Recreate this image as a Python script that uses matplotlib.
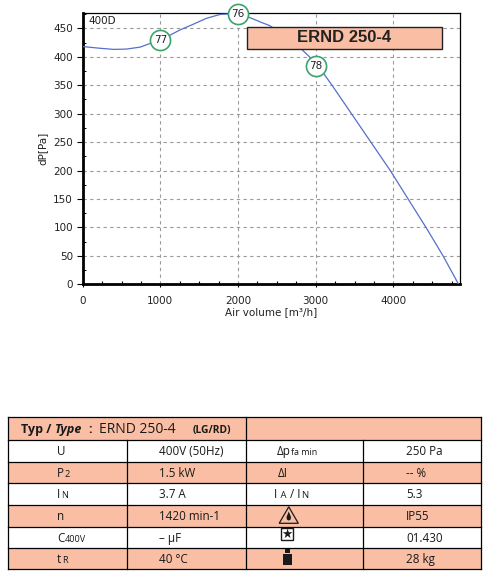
import matplotlib
matplotlib.use("Agg")
import matplotlib.pyplot as plt
from matplotlib.patches import Rectangle, Polygon
from matplotlib.ticker import MultipleLocator

# ---------------- data ----------------
air_volume = [0, 220, 400, 560, 740, 890, 1000, 1110, 1250, 1420, 1590, 1770, 1890,
              2000, 2150, 2300, 2410, 2600, 2820, 2920, 3000, 3100, 3210, 3460,
              3710, 3960, 4190, 4420, 4640, 4840]
pressure = [418, 415, 413, 413.5, 417, 424.5, 429, 437, 447, 457, 467.5, 474.5, 475.3,
            474.7, 469, 460.5, 454.7, 436, 413, 400, 384, 371, 350, 300,
            250, 200, 150, 100, 50, 0]
eff_x = [1000, 2000, 3000]
eff_y = [429, 475, 384]
eff_labels = ["77", "76", "78"]
x_ticks = [0, 1000, 2000, 3000, 4000]
y_ticks = [0, 50, 100, 150, 200, 250, 300, 350, 400, 450]
curve_label = "400D"
model_name = "ERND 250-4"

row_main = ["U", "P", "I", "n", "C", "t"]
row_sub = ["", "2", "N", "", "400V", "R"]
row_val_left = ["400V (50Hz)", "1.5 kW", "3.7 A", "1420 min-1", "– µF", "40 °C"]
row_val_right = ["250 Pa", "-- %", "5.3", "IP55", "01.430", "28 kg"]

SALMON = "#f9bea4"
W, H = 489, 572

fig = plt.figure(figsize=(W / 100, H / 100), dpi=100)
fig.patch.set_facecolor("white")

# ---------------- chart ----------------
L, R, T, B = 82.7, 460.0, 12.7, 284.3
ax = fig.add_axes([L / W, 1 - B / H, (R - L) / W, (B - T) / H])
ax.set_xlim(0, 4858)
ax.set_ylim(0, 477.5)
ax.set_xticks(x_ticks)
ax.set_yticks(y_ticks)
ax.xaxis.set_minor_locator(MultipleLocator(250))
ax.yaxis.set_minor_locator(MultipleLocator(25))
ax.grid(True, which="major", color="#9a9a9a", linestyle=(0, (3, 3)), linewidth=0.8)
ax.set_axisbelow(True)
for s in ["left", "bottom"]:
    ax.spines[s].set_linewidth(2.0)
for s in ["top", "right"]:
    ax.spines[s].set_linewidth(0.9)
ax.tick_params(axis="x", which="major", direction="out", length=2.5, width=0.8,
               pad=6, labelsize=7.5, labelcolor="#222222")
ax.tick_params(axis="y", which="major", direction="out", length=4, width=0.8,
               pad=3, labelsize=7.5, labelcolor="#222222")
ax.tick_params(axis="x", which="minor", direction="in", length=2.5, width=0.8)
ax.tick_params(axis="y", which="minor", direction="in", length=2.0, width=0.7)

ax.plot(air_volume, pressure, color="#5470cc", linewidth=0.9, zorder=3)
ax.scatter(eff_x, eff_y, s=210, facecolor="white", edgecolor="#3aa46a",
           linewidth=1.2, zorder=5, clip_on=False)
for xv, yv, lab in zip(eff_x, eff_y, eff_labels):
    ax.text(xv, yv, lab, ha="center", va="center", fontsize=7.5,
            color="#222222", zorder=6)

ax.text(0.014, 0.968, curve_label, transform=ax.transAxes, ha="left", va="center",
        fontsize=7.5, color="#222222")

box = Rectangle((0.436, 0.865), 0.515, 0.0835, transform=ax.transAxes,
                facecolor=SALMON, edgecolor="#222222", linewidth=1.0, zorder=7)
ax.add_patch(box)
ax.text(0.6935, 0.907, model_name, transform=ax.transAxes, ha="center", va="center",
        fontsize=12, fontweight="bold", family="Liberation Sans", color="#222222",
        zorder=8)

ax.set_xlabel("Air volume [m³/h]", fontsize=7.5, color="#222222", labelpad=1)
ax.set_ylabel("dP[Pa]", fontsize=7.5, color="#222222", labelpad=4)

# ---------------- table ----------------
ov = fig.add_axes([0, 0, 1, 1])
ov.set_xlim(0, W)
ov.set_ylim(H, 0)
ov.axis("off")

cols = [8.3, 126.7, 245.7, 362.7, 481.0]
rows = [417.3, 440.0, 461.7, 483.3, 505.0, 526.7, 548.3, 569.3]

# backgrounds
ov.add_patch(Rectangle((cols[0], rows[0]), cols[4] - cols[0], rows[1] - rows[0],
                       facecolor=SALMON, edgecolor="none"))
for i in range(6):
    fc = SALMON if i % 2 == 1 else "white"
    ov.add_patch(Rectangle((cols[0], rows[i + 1]), cols[4] - cols[0],
                           rows[i + 2] - rows[i + 1], facecolor=fc, edgecolor="none"))
# lines
for yv in rows:
    ov.plot([cols[0], cols[4]], [yv, yv], color="black", linewidth=0.9)
ov.plot([cols[0], cols[0]], [rows[0], rows[-1]], color="black", linewidth=0.9)
ov.plot([cols[4], cols[4]], [rows[0], rows[-1]], color="black", linewidth=0.9)
ov.plot([cols[2], cols[2]], [rows[0], rows[-1]], color="black", linewidth=0.9)
ov.plot([cols[1], cols[1]], [rows[1], rows[-1]], color="black", linewidth=0.9)
ov.plot([cols[3], cols[3]], [rows[1], rows[-1]], color="black", linewidth=0.9)

TF = "Open Sans"
TC = "#1a1a1a"
fig.canvas.draw()
renderer = fig.canvas.get_renderer()


def pieces(x, yb, parts):
    for txt, size, kw in parts:
        t = ov.text(x, yb, txt, fontsize=size, family=TF, color=TC, ha="left",
                    va="baseline", **kw)
        bb = t.get_window_extent(renderer)
        x += bb.width + 0.5


# header
hb = rows[0] + 16.0
ov.text(20.7, hb, "Typ /", fontsize=9, family=TF, fontweight="bold", color=TC, va="baseline")
ov.text(55, hb, "Type", fontsize=9, family=TF, fontweight="bold", style="italic",
        color=TC, va="baseline")
ov.text(88, hb, ":", fontsize=9, family=TF, fontweight="bold", color=TC, va="baseline")
ov.text(99, hb, model_name, fontsize=10, family=TF, color=TC, va="baseline")
ov.text(192.5, hb, "(LG/RD)", fontsize=7.4, family=TF, fontweight="bold", color=TC,
        va="baseline")

for i in range(6):
    yc = (rows[i + 1] + rows[i + 2]) / 2
    yb = yc + 4.2
    parts = [(row_main[i], 8.4, {})]
    if row_sub[i]:
        parts.append((row_sub[i], 6.6, {}))
    pieces(57, yb, parts)
    ov.text(159, yb, row_val_left[i], fontsize=8.4, family=TF, color=TC, va="baseline")
    ov.text(406, yb, row_val_right[i], fontsize=8.4, family=TF, color=TC, va="baseline")

# right-hand labels
yb0 = (rows[1] + rows[2]) / 2 + 4.2
pieces(276.7, yb0, [("Δp", 8.4, {}), ("fa min", 6.4, {})])
yb1 = (rows[2] + rows[3]) / 2 + 4.2
pieces(278, yb1, [("ΔI", 8.4, {})])
yb2 = (rows[3] + rows[4]) / 2 + 4.2
pieces(274, yb2, [("I", 8.4, {}), (" A", 6.8, {}), (" / I", 8.4, {}), ("N", 6.8, {})])

# icons: warning triangle with drop
ov.add_patch(Polygon([[279.2, 523.3], [298.3, 523.3], [288.75, 506.8]], closed=True,
                     facecolor="none", edgecolor="#1a1a1a", linewidth=0.9))
ov.add_patch(Polygon([[288.75, 511.5], [291.0, 517.0], [290.6, 519.6], [288.75, 520.6],
                      [286.9, 519.6], [286.5, 517.0]], closed=True,
                     facecolor="#1a1a1a", edgecolor="none"))
# star in box
ov.add_patch(Rectangle((280.8, 527.8), 12.5, 12.3, facecolor="white",
                       edgecolor="#1a1a1a", linewidth=1.0))
ov.text(287.05, 534.2, "★", fontsize=9, family="DejaVu Sans", color="#1a1a1a",
        ha="center", va="center")
# weight
ov.add_patch(Rectangle((285.3, 549.3), 4.6, 3.8, facecolor="#1a1a1a", edgecolor="none"))
ov.add_patch(Rectangle((282.8, 553.6), 9.5, 11.4, facecolor="#1a1a1a", edgecolor="none"))

fig.savefig("out.png", dpi=100)
